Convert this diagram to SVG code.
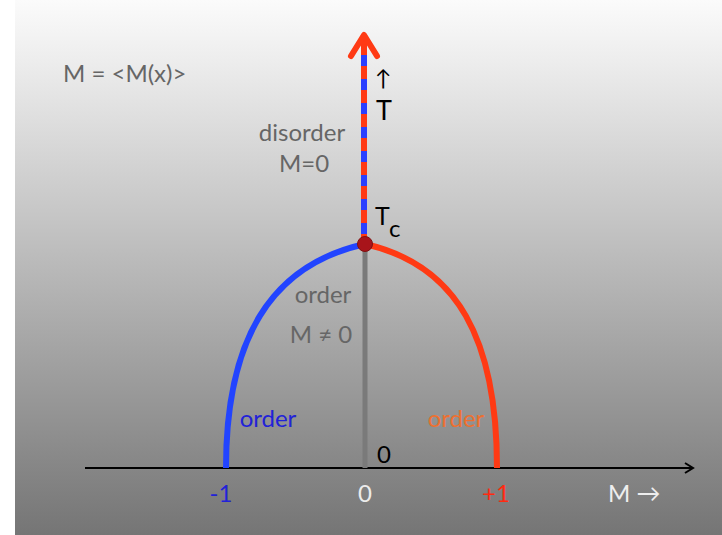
<svg xmlns="http://www.w3.org/2000/svg" width="722" height="535" viewBox="0 0 722 535">
<defs>
<linearGradient id="bg" x1="0" y1="0" x2="0" y2="1">
<stop offset="0" stop-color="#fbfbfb"/>
<stop offset="0.12" stop-color="#ececec"/>
<stop offset="1" stop-color="#757575"/>
</linearGradient>
<marker id="ah" markerWidth="12" markerHeight="12" refX="10" refY="6" orient="auto" markerUnits="userSpaceOnUse">
<path d="M2,1 L10,6 L2,11" fill="none" stroke="#000" stroke-width="2"/>
</marker>
</defs>
<style>
text{font-family:Lato,"Open Sans","Liberation Sans",sans-serif}
.g{fill:#666666;font-size:24px}
.lbl{font-size:24px}
</style>
<rect x="0" y="0" width="722" height="535" fill="#ffffff"/>
<rect x="15" y="0" width="707" height="535" fill="url(#bg)"/>
<g id="connectors">
<line x1="85" y1="468" x2="693" y2="468" stroke="#000" stroke-width="2" marker-end="url(#ah)"/>
<line x1="365" y1="468" x2="365" y2="246" stroke="#7a7a7a" stroke-width="5"/>
<line x1="364" y1="246" x2="364" y2="38" stroke="#ff3a14" stroke-width="6"/>
<line x1="364" y1="234" x2="364" y2="46" stroke="#2a40ff" stroke-width="6" stroke-dasharray="11 13"/>
<polyline points="351,56 364,35 377,56" fill="none" stroke="#ff3a14" stroke-width="6" stroke-linecap="round" stroke-linejoin="round"/>
<path d="M226,468 C226,340 270,265 365,244" fill="none" stroke="#2244ff" stroke-width="6"/>
<path d="M497,468 C497,340 458,265 365,244" fill="none" stroke="#ff3a14" stroke-width="6"/>
</g>
<g id="tc-point">
<circle cx="365" cy="244" r="7.5" fill="#a8141a" stroke="#801010" stroke-width="1"/>
</g>
<g id="labels">
<text x="63" y="82" class="g" font-size="25">M = &lt;M(x)&gt;</text>
<text x="375" y="86" font-size="22" fill="#000">↑</text>
<text x="376" y="120" font-size="27" fill="#000">T</text>
<text x="375" y="225" font-size="25" fill="#000">T</text>
<text x="389" y="237" font-size="24" fill="#000">c</text>
<text x="302" y="141" class="g" text-anchor="middle">disorder</text>
<text x="304" y="172" class="g" text-anchor="middle">M=0</text>
<text x="323" y="303" class="g" text-anchor="middle">order</text>
<text x="321" y="343" class="g" text-anchor="middle">M ≠ 0</text>
<text x="268" y="427" class="lbl" fill="#2222d8" text-anchor="middle">order</text>
<text x="456" y="427" class="lbl" fill="#ee7030" text-anchor="middle">order</text>
<text x="384" y="463" class="lbl" fill="#000" text-anchor="middle">0</text>
<text x="221" y="502" class="lbl" fill="#2222d8" text-anchor="middle">-1</text>
<text x="365" y="502" class="lbl" fill="#ececec" text-anchor="middle">0</text>
<text x="496" y="502" class="lbl" fill="#ff2a10" text-anchor="middle">+1</text>
<text x="608" y="502" class="lbl" fill="#eeeeee">M →</text>
</g>
</svg>
